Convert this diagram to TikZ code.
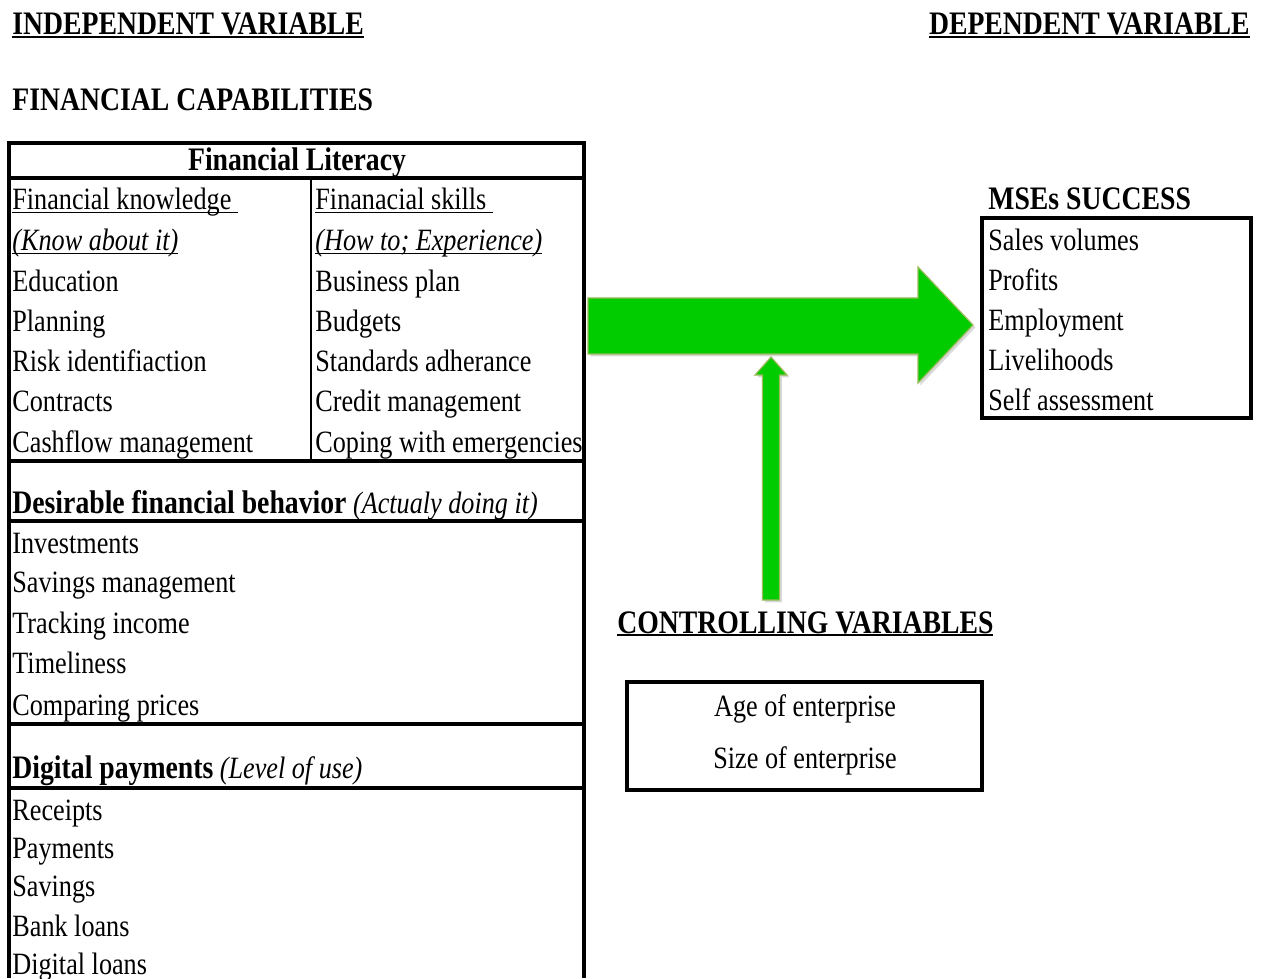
\documentclass[tikz,border=0pt]{standalone}
\usepackage{fontspec}
\setmainfont{Liberation Serif}[FakeStretch=0.845]
\usepackage{xcolor}
\usepackage{tikz}
\usetikzlibrary{shadows}

\definecolor{arrowgreen}{RGB}{0,204,0}
\definecolor{arrowedge}{RGB}{155,187,89}

\newcommand\ulin[2][0.6pt]{\setbox0\hbox{#2}\rlap{\rule[-1.6pt]{\wd0}{#1}}\box0}
\newcommand\hb[1]{{\fontsize{16.4}{18}\selectfont\bfseries #1}}

\tikzset{
  txt/.style={anchor=base west, inner sep=0pt, font=\fontsize{15.5}{18}\selectfont},
  hdr/.style={txt, font=\fontsize{16.4}{18}\selectfont\bfseries},
  boxline/.style={line width=1.6pt},
  divline/.style={line width=1pt},
  blockarrow/.style={fill=arrowgreen, draw=arrowedge, line width=0.6pt,
    drop shadow={opacity=0.3, shadow xshift=1.2pt, shadow yshift=-1.2pt}},
}

\begin{document}
\begin{tikzpicture}[x=0.5pt, y=-0.5pt]
\useasboundingbox (0,0) rectangle (1261,978);

% headings
\node[hdr] (indep) at (12,35) {\ulin[1pt]{INDEPENDENT VARIABLE}};
\node[hdr, anchor=base east] (dep) at (1250,35) {\ulin[1pt]{DEPENDENT VARIABLE}};
\node[hdr] (fincap) at (12,111) {FINANCIAL CAPABILITIES};

% financial capabilities table
\draw[boxline] (9,978) -- (9,143) -- (584,143) -- (584,978);
\foreach \y in {178,461,521,724,788}{%
  \draw[boxline] (9,\y) -- (584,\y);
}
\draw[divline] (311,178) -- (311,461);

\node[hdr, anchor=base] (litt) at (297,171) {Financial Literacy};
\node[txt] (knowhead) at (12,210) {\ulin{Financial knowledge\ }};
\node[txt] (knowsub) at (12,251) {\ulin{\itshape (Know about it)}};
\node[txt] (skillhead) at (315,210) {\ulin{Finanacial skills\ }};
\node[txt] (skillsub) at (315,251) {\ulin{\itshape (How to; Experience)}};
\foreach \y/\t [count=\i from 1] in {292/Education, 331/Planning, 371/Risk identifiaction, 411/Contracts, 452/Cashflow management}{%
  \node[txt] (know\i) at (12,\y) {\t};
}
\foreach \y/\t [count=\i from 1] in {292/Business plan, 331/Budgets, 371/Standards adherance, 411/Credit management, 452/Coping with emergencies}{%
  \node[txt] (skill\i) at (315,\y) {\t};
}

\node[txt] (behhead) at (12,513) {\hb{Desirable financial behavior} \textit{(Actualy doing it)}};
\foreach \y/\t [count=\i from 1] in {553/Investments, 592/Savings management, 633/Tracking income, 673/Timeliness, 715/Comparing prices}{%
  \node[txt] (beh\i) at (12,\y) {\t};
}

\node[txt] (payhead) at (12,778) {\hb{Digital payments} \textit{(Level of use)}};
\foreach \y/\t [count=\i from 1] in {820/Receipts, 858/Payments, 896/Savings, 936/Bank loans, 974/Digital loans}{%
  \node[txt] (pay\i) at (12,\y) {\t};
}

% dependent variable
\node[hdr] (msehead) at (988,210) {MSEs SUCCESS};
\draw[boxline] (982,218) rectangle (1251,418);
\foreach \y/\t [count=\i from 1] in {251/Sales volumes, 291/Profits, 330/Employment, 370/Livelihoods, 410/Self assessment}{%
  \node[txt] (mse\i) at (988,\y) {\t};
}

% controlling variables
\node[hdr] (ctrlhead) at (617,633) {\ulin[1.2pt]{CONTROLLING VARIABLES}};
\draw[boxline] (627,682) rectangle (982,790);
\node[txt, anchor=base] (age) at (805,716) {Age of enterprise};
\node[txt, anchor=base] (size) at (805,768) {Size of enterprise};

% arrows
\coordinate (bigtail) at (588,326);
\coordinate (bigtip) at (973,325);
\draw[blockarrow] (bigtail) ++(0,-28) -- ++(330,0) -- ++(0,-31) -- (bigtip)
  -- ++(-55,58) -- ++(0,-29) -- ++(-330,0) -- cycle;

\coordinate (smalltail) at (771,600);
\coordinate (smalltip) at (771,357);
\draw[blockarrow] (smalltail) ++(-8.5,0) -- ++(0,-225) -- ++(-7.5,0) -- (smalltip)
  -- ++(16,18) -- ++(-7.5,0) -- ++(0,225) -- cycle;
\end{tikzpicture}
\end{document}
